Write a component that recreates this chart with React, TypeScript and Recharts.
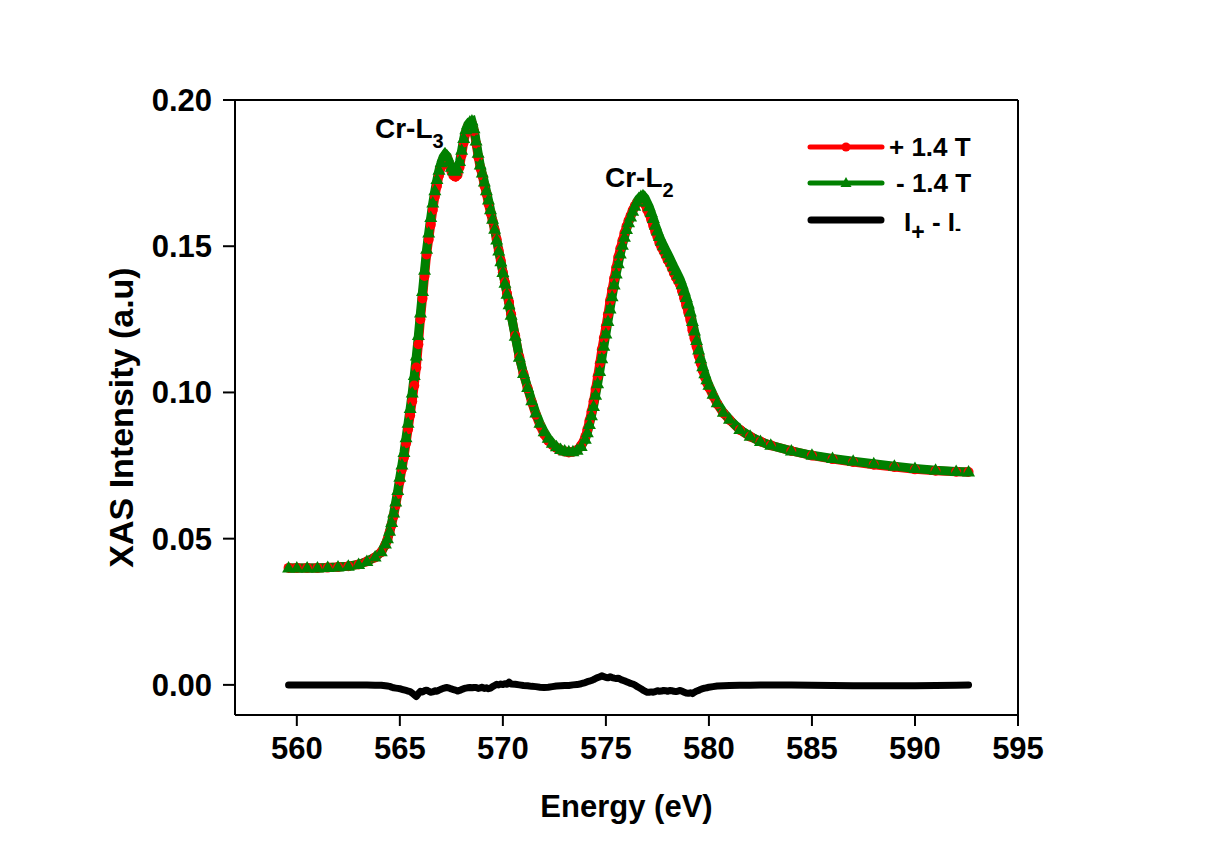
import { LineChart, Line, XAxis, YAxis, ReferenceLine } from 'recharts';

// photon energy (eV)
const energy = [
    559.6, 560.0, 560.5, 561.0, 561.5, 562.0, 562.5, 563.0, 563.4, 563.8, 564.1, 564.3,
    564.4, 564.5, 564.6, 564.7, 564.8, 564.9, 565.0, 565.1, 565.2, 565.3, 565.4, 565.5,
    565.6, 565.7, 565.8, 565.9, 566.0, 566.1, 566.2, 566.3, 566.4, 566.5, 566.6, 566.7,
    566.8, 566.9, 567.0, 567.1, 567.2, 567.3, 567.4, 567.5, 567.6, 567.7, 567.8, 567.9,
    568.0, 568.1, 568.2, 568.3, 568.4, 568.5, 568.6, 568.7, 568.8, 568.9, 569.0, 569.1,
    569.2, 569.3, 569.4, 569.5, 569.6, 569.7, 569.8, 569.9, 570.0, 570.1, 570.2, 570.3,
    570.4, 570.6, 570.8, 571.0, 571.2, 571.4, 571.6, 571.8, 572.0, 572.2, 572.4, 572.6,
    572.8, 573.0, 573.2, 573.4, 573.6, 573.8, 574.0, 574.1, 574.2, 574.3, 574.4, 574.5,
    574.6, 574.7, 574.8, 574.9, 575.0, 575.1, 575.2, 575.3, 575.4, 575.5, 575.6, 575.7,
    575.8, 575.9, 576.0, 576.1, 576.2, 576.3, 576.4, 576.5, 576.6, 576.7, 576.8, 576.9,
    577.0, 577.1, 577.2, 577.3, 577.4, 577.5, 577.6, 577.7, 577.8, 577.9, 578.0, 578.1,
    578.2, 578.3, 578.4, 578.5, 578.6, 578.7, 578.8, 578.9, 579.0, 579.1, 579.2, 579.3,
    579.4, 579.5, 579.6, 579.7, 579.8, 579.9, 580.0, 580.2, 580.4, 580.7, 581.0, 581.5,
    582.0, 582.5, 583.0, 584.0, 585.0, 586.0, 587.0, 588.0, 589.0, 590.0, 591.0, 592.0,
    592.6,
];

// + 1.4 T
const plus14T = [
    0.0400, 0.0400, 0.0400, 0.0400, 0.0401, 0.0403, 0.0406, 0.0412, 0.0422, 0.0436, 0.0454, 0.0479,
    0.0496, 0.0520, 0.0547, 0.0578, 0.0614, 0.0653, 0.0697, 0.0737, 0.0778, 0.0826, 0.0874, 0.0922,
    0.0970, 0.1024, 0.1085, 0.1165, 0.1250, 0.1321, 0.1398, 0.1472, 0.1523, 0.1573, 0.1624, 0.1670,
    0.1706, 0.1742, 0.1770, 0.1793, 0.1805, 0.1799, 0.1777, 0.1756, 0.1742, 0.1738, 0.1744, 0.1771,
    0.1812, 0.1855, 0.1887, 0.1906, 0.1916, 0.1918, 0.1893, 0.1851, 0.1806, 0.1768, 0.1742, 0.1708,
    0.1680, 0.1645, 0.1614, 0.1586, 0.1556, 0.1523, 0.1484, 0.1450, 0.1411, 0.1377, 0.1338, 0.1309,
    0.1267, 0.1194, 0.1120, 0.1063, 0.1014, 0.0967, 0.0924, 0.0887, 0.0857, 0.0835, 0.0820, 0.0810,
    0.0802, 0.0798, 0.0795, 0.0797, 0.0803, 0.0819, 0.0848, 0.0873, 0.0903, 0.0935, 0.0970, 0.1012,
    0.1055, 0.1099, 0.1146, 0.1186, 0.1226, 0.1267, 0.1313, 0.1352, 0.1390, 0.1427, 0.1463, 0.1492,
    0.1519, 0.1545, 0.1568, 0.1588, 0.1605, 0.1623, 0.1637, 0.1647, 0.1654, 0.1657, 0.1655, 0.1643,
    0.1625, 0.1610, 0.1591, 0.1570, 0.1549, 0.1532, 0.1511, 0.1496, 0.1483, 0.1468, 0.1452, 0.1441,
    0.1425, 0.1408, 0.1393, 0.1381, 0.1368, 0.1346, 0.1322, 0.1297, 0.1273, 0.1248, 0.1213, 0.1185,
    0.1157, 0.1126, 0.1100, 0.1075, 0.1053, 0.1033, 0.1017, 0.0988, 0.0961, 0.0929, 0.0906, 0.0872,
    0.0849, 0.0832, 0.0819, 0.0800, 0.0784, 0.0772, 0.0762, 0.0753, 0.0745, 0.0737, 0.0732, 0.0729,
    0.0728,
];

// - 1.4 T
const minus14T = [
    0.0400, 0.0400, 0.0400, 0.0400, 0.0401, 0.0403, 0.0406, 0.0412, 0.0422, 0.0437, 0.0455, 0.0482,
    0.0500, 0.0525, 0.0555, 0.0588, 0.0625, 0.0665, 0.0710, 0.0752, 0.0795, 0.0845, 0.0895, 0.0945,
    0.0998, 0.1058, 0.1125, 0.1195, 0.1272, 0.1345, 0.1418, 0.1490, 0.1545, 0.1598, 0.1648, 0.1690,
    0.1728, 0.1760, 0.1785, 0.1805, 0.1815, 0.1808, 0.1788, 0.1770, 0.1758, 0.1756, 0.1765, 0.1790,
    0.1828, 0.1868, 0.1898, 0.1916, 0.1925, 0.1928, 0.1902, 0.1860, 0.1818, 0.1778, 0.1750, 0.1720,
    0.1690, 0.1658, 0.1625, 0.1592, 0.1558, 0.1521, 0.1484, 0.1447, 0.1410, 0.1373, 0.1336, 0.1300,
    0.1264, 0.1192, 0.1120, 0.1065, 0.1017, 0.0972, 0.0930, 0.0895, 0.0866, 0.0843, 0.0826, 0.0814,
    0.0805, 0.0800, 0.0797, 0.0797, 0.0802, 0.0815, 0.0840, 0.0862, 0.0890, 0.0920, 0.0952, 0.0990,
    0.1030, 0.1072, 0.1115, 0.1158, 0.1200, 0.1243, 0.1285, 0.1327, 0.1367, 0.1405, 0.1440, 0.1473,
    0.1503, 0.1531, 0.1557, 0.1580, 0.1600, 0.1620, 0.1637, 0.1652, 0.1663, 0.1670, 0.1673, 0.1665,
    0.1650, 0.1635, 0.1615, 0.1595, 0.1572, 0.1552, 0.1533, 0.1517, 0.1502, 0.1488, 0.1474, 0.1460,
    0.1445, 0.1430, 0.1416, 0.1402, 0.1387, 0.1368, 0.1347, 0.1325, 0.1302, 0.1275, 0.1243, 0.1210,
    0.1178, 0.1145, 0.1115, 0.1088, 0.1064, 0.1043, 0.1025, 0.0994, 0.0965, 0.0932, 0.0908, 0.0873,
    0.0850, 0.0832, 0.0819, 0.0800, 0.0785, 0.0774, 0.0765, 0.0756, 0.0748, 0.0740, 0.0734, 0.0730,
    0.0728,
];

// I+ - I-
const diffPM = [
    0.0000, 0.0000, 0.0000, 0.0000, 0.0000, 0.0000, 0.0000, 0.0000, 0.0000, -0.0001, -0.0001, -0.0003,
    -0.0004, -0.0005, -0.0008, -0.0010, -0.0011, -0.0012, -0.0013, -0.0015, -0.0017, -0.0019, -0.0021, -0.0023,
    -0.0028, -0.0034, -0.0040, -0.0030, -0.0022, -0.0024, -0.0020, -0.0018, -0.0022, -0.0025, -0.0024, -0.0020,
    -0.0022, -0.0018, -0.0015, -0.0012, -0.0010, -0.0009, -0.0011, -0.0014, -0.0016, -0.0018, -0.0021, -0.0019,
    -0.0016, -0.0013, -0.0011, -0.0010, -0.0009, -0.0010, -0.0009, -0.0009, -0.0012, -0.0010, -0.0008, -0.0012,
    -0.0010, -0.0013, -0.0011, -0.0006, -0.0002, 0.0002, 0.0000, 0.0003, 0.0001, 0.0004, 0.0002, 0.0009,
    0.0003, 0.0002, 0.0000, -0.0002, -0.0003, -0.0005, -0.0006, -0.0008, -0.0009, -0.0008, -0.0006, -0.0004,
    -0.0003, -0.0002, -0.0002, 0.0000, 0.0001, 0.0004, 0.0008, 0.0011, 0.0013, 0.0015, 0.0018, 0.0022,
    0.0025, 0.0027, 0.0031, 0.0028, 0.0026, 0.0024, 0.0028, 0.0025, 0.0023, 0.0022, 0.0023, 0.0019,
    0.0016, 0.0014, 0.0011, 0.0008, 0.0005, 0.0003, 0.0000, -0.0005, -0.0009, -0.0013, -0.0018, -0.0022,
    -0.0025, -0.0025, -0.0024, -0.0025, -0.0023, -0.0020, -0.0022, -0.0021, -0.0019, -0.0020, -0.0022, -0.0019,
    -0.0020, -0.0022, -0.0023, -0.0021, -0.0019, -0.0022, -0.0025, -0.0028, -0.0029, -0.0027, -0.0030, -0.0025,
    -0.0021, -0.0019, -0.0015, -0.0013, -0.0011, -0.0010, -0.0008, -0.0006, -0.0004, -0.0003, -0.0002, -0.0001,
    -0.0001, 0.0000, 0.0000, 0.0000, -0.0001, -0.0002, -0.0003, -0.0003, -0.0003, -0.0003, -0.0002, -0.0001,
    0.0000,
];

const xTicks = [560, 565, 570, 575, 580, 585, 590, 595];
const yTicks = [0, 0.05, 0.1, 0.15, 0.2];

const FONT = '"Liberation Sans", Arial, Helvetica, sans-serif';
const RED = '#ff0000';
const GREEN = '#008000';

const data = energy.map((e, i) => ({
    e,
    plus: plus14T[i],
    minus: minus14T[i],
    diff: diffPM[i],
}));

const RedDot = (props: any) => {
    const { cx, cy, index } = props;
    if (cx == null || cy == null) return <g key={`r${index}`} />;
    return <circle key={`r${index}`} cx={cx} cy={cy} r={5} fill={RED} />;
};

const GreenTri = (props: any) => {
    const { cx, cy, index } = props;
    if (cx == null || cy == null) return <g key={`g${index}`} />;
    const pts = `${cx},${cy - 7} ${cx - 6.5},${cy + 4.5} ${cx + 6.5},${cy + 4.5}`;
    return <polygon key={`g${index}`} points={pts} fill={GREEN} />;
};

const tickStyle = { fill: '#000', fontSize: 31, fontWeight: 'bold' as const, fontFamily: FONT };

export default function App() {
    return (
        <div style={{ position: 'absolute', left: 0, top: 0, width: 1226, height: 857, background: '#fff' }}>
            <LineChart
                width={1226}
                height={857}
                data={data}
                margin={{ top: 100, right: 208, bottom: 82, left: 115 }}
            >
                <XAxis
                    dataKey="e"
                    type="number"
                    domain={[557, 595]}
                    ticks={xTicks}
                    allowDataOverflow
                    height={60}
                    tick={tickStyle}
                    tickSize={11}
                    tickMargin={11}
                    axisLine={{ stroke: '#000', strokeWidth: 2 }}
                    tickLine={{ stroke: '#000', strokeWidth: 2 }}
                />
                <YAxis
                    type="number"
                    domain={[-0.0103, 0.2]}
                    ticks={yTicks}
                    allowDataOverflow
                    width={120}
                    tick={tickStyle}
                    tickSize={12}
                    tickMargin={11}
                    tickFormatter={(v: number) => v.toFixed(2)}
                    axisLine={{ stroke: '#000', strokeWidth: 2 }}
                    tickLine={{ stroke: '#000', strokeWidth: 2 }}
                />
                <ReferenceLine y={0.2} stroke="#000" strokeWidth={2} />
                <ReferenceLine x={595} stroke="#000" strokeWidth={2} />
                <Line
                    type="linear"
                    dataKey="plus"
                    stroke={RED}
                    strokeWidth={9}
                    dot={RedDot}
                    activeDot={false}
                    isAnimationActive={false}
                />
                <Line
                    type="linear"
                    dataKey="minus"
                    stroke={GREEN}
                    strokeWidth={9}
                    dot={GreenTri}
                    activeDot={false}
                    isAnimationActive={false}
                />
                <Line
                    type="linear"
                    dataKey="diff"
                    stroke="#000"
                    strokeWidth={7}
                    strokeLinecap="round"
                    strokeLinejoin="round"
                    dot={false}
                    activeDot={false}
                    isAnimationActive={false}
                />
            </LineChart>

            <svg
                width={1226}
                height={857}
                style={{ position: 'absolute', left: 0, top: 0, pointerEvents: 'none' }}
                fontFamily={FONT}
                fontWeight="bold"
            >
                {/* axis titles */}
                <text x={626.5} y={817} fontSize={31} textAnchor="middle" fill="#000">Energy (eV)</text>
                <text transform="translate(133,417.5) rotate(-90)" fontSize={34} textAnchor="middle" fill="#000">
                    XAS Intensity (a.u)
                </text>

                {/* edge labels */}
                <text x={375} y={138} fontSize={28} fill="#000">
                    Cr-L<tspan fontSize={20} dy={10}>3</tspan>
                </text>
                <text x={605} y={187} fontSize={28} fill="#000">
                    Cr-L<tspan fontSize={20} dy={10}>2</tspan>
                </text>

                {/* legend */}
                <line x1={810} x2={882} y1={147} y2={147} stroke={RED} strokeWidth={5} strokeLinecap="round" />
                <circle cx={846} cy={147} r={4.5} fill={RED} />
                <text x={889} y={156} fontSize={26} fill="#000">+ 1.4 T</text>

                <line x1={810} x2={882} y1={183} y2={183} stroke={GREEN} strokeWidth={5} strokeLinecap="round" />
                <polygon points="846,177 840.5,187 851.5,187" fill={GREEN} />
                <text x={896} y={192} fontSize={26} fill="#000">- 1.4 T</text>

                <line x1={811} x2={881} y1={220} y2={220} stroke="#000" strokeWidth={7} strokeLinecap="round" />
                <text x={904} y={231} fontSize={26} fill="#000">
                    I<tspan fontSize={23} dy={9}>+</tspan>
                    <tspan dy={-9}> - I</tspan>
                    <tspan fontSize={18} dy={4}>-</tspan>
                </text>
            </svg>
        </div>
    );
}
